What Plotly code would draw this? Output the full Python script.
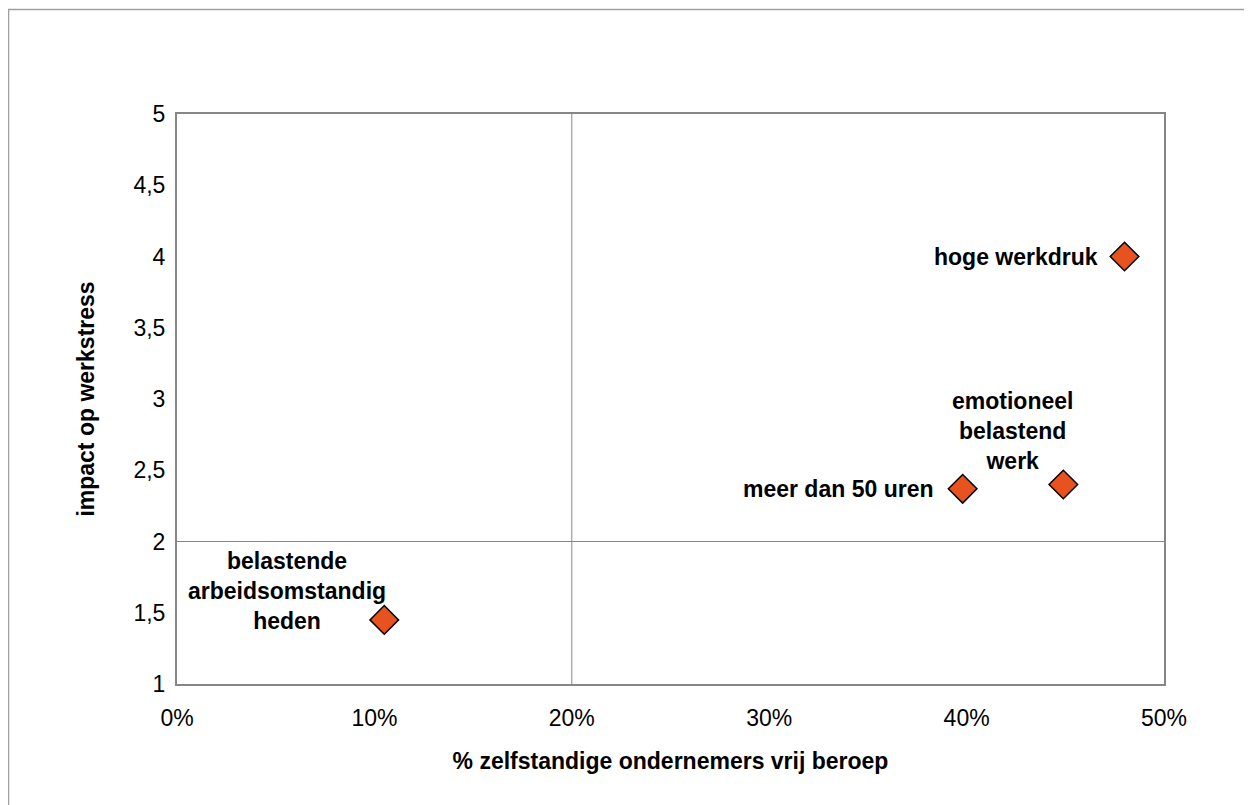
import plotly.graph_objects as go

labels = ["hoge werkdruk", "meer dan 50 uren", "emotioneel<br>belastend<br>werk",
          "belastende<br>arbeidsomstandig<br>heden"]
pct_zelfstandig = [0.480, 0.398, 0.449, 0.105]
impact = [4.0, 2.37, 2.40, 1.45]

x_ticks = [0, 0.1, 0.2, 0.3, 0.4, 0.5]
x_ticktext = ["0%", "10%", "20%", "30%", "40%", "50%"]
y_ticks = [1, 1.5, 2, 2.5, 3, 3.5, 4, 4.5, 5]
y_ticktext = ["1", "1,5", "2", "2,5", "3", "3,5", "4", "4,5", "5"]

x_cross = 0.2
y_cross = 2

FONT = "Liberation Sans, Arial, sans-serif"
FS = 23

fig = go.Figure()
fig.add_trace(go.Scatter(
    x=pct_zelfstandig, y=impact, mode="markers",
    marker=dict(symbol="diamond", size=22, color="#E8521E",
                line=dict(color="#000000", width=1.5)),
    hoverinfo="skip", showlegend=False,
))

# label placements (anchor, shifts in pixels)
placements = [
    dict(xanchor="right", yanchor="middle", xshift=-25, yshift=0),
    dict(xanchor="right", yanchor="middle", xshift=-28, yshift=0),
    dict(xanchor="center", yanchor="middle", xshift=-51, yshift=54),
    dict(xanchor="center", yanchor="middle", xshift=-97, yshift=29),
]
for lab, xv, yv, pl in zip(labels, pct_zelfstandig, impact, placements):
    fig.add_annotation(x=xv, y=yv, text="<b>%s</b>" % lab, showarrow=False,
                       align="center", font=dict(family=FONT, size=FS, color="#000000"),
                       **pl)

# axis crossing lines
fig.add_shape(type="line", xref="x", yref="paper", x0=x_cross, x1=x_cross, y0=0, y1=1,
              line=dict(color="#868686", width=1))
fig.add_shape(type="line", xref="paper", yref="y", x0=0, x1=1, y0=y_cross, y1=y_cross,
              line=dict(color="#868686", width=1))
# outer chart border
fig.add_shape(type="rect", xref="paper", yref="paper", x0=-0.1707, x1=1.2, y0=-0.4, y1=1.1833,
              line=dict(color="#A0A0A0", width=1.5), layer="below")

fig.update_layout(
    width=1244, height=797,
    margin=dict(l=169, r=88, t=106, b=121),
    paper_bgcolor="white", plot_bgcolor="white",
    font=dict(family=FONT, size=FS, color="#000000"),
    xaxis=dict(range=[0, 0.5], tickvals=x_ticks, ticktext=x_ticktext,
               showgrid=False, zeroline=False, showline=True, mirror=True,
               linecolor="#868686", linewidth=2, ticks="", ticklen=0,
               ticklabelstandoff=12,
               tickfont=dict(size=FS), fixedrange=True,
               title=dict(text="<b>% zelfstandige ondernemers vrij beroep</b>",
                          font=dict(size=FS), standoff=23)),
    yaxis=dict(range=[1, 5], tickvals=y_ticks, ticktext=y_ticktext,
               showgrid=False, zeroline=False, showline=True, mirror=True,
               linecolor="#868686", linewidth=2, ticks="", ticklen=0,
               ticklabelstandoff=5,
               tickfont=dict(size=FS), fixedrange=True,
               title=dict(text="<b>impact op werkstress</b>",
                          font=dict(size=FS), standoff=32)),
)

fig.write_html("out.html")
